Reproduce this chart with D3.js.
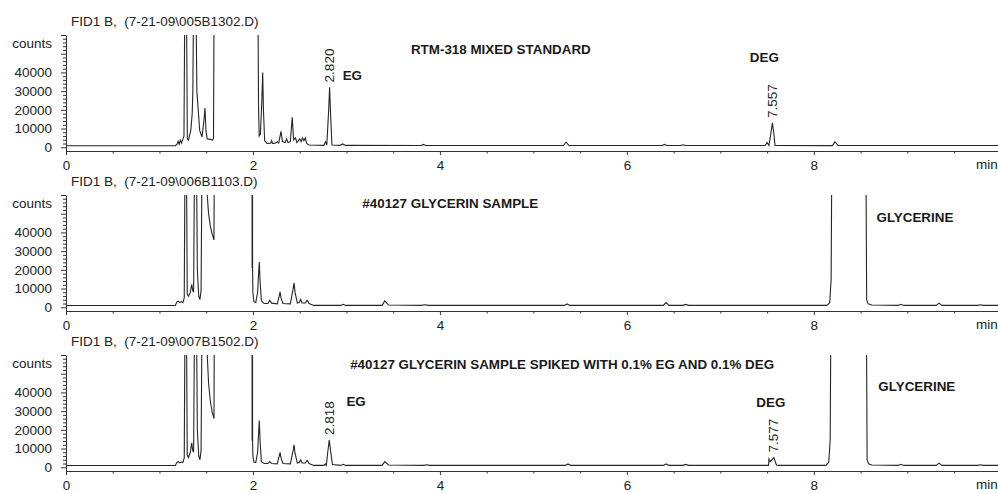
<!DOCTYPE html>
<html>
<head>
<meta charset="utf-8">
<script src="https://cdn.jsdelivr.net/npm/d3@7"></script>
<style>
  body { margin: 0; background: #fff; }
  svg { display: block; font-family: "Liberation Sans", Arial, sans-serif; }
  .axis text { font-size: 13.5px; fill: #222; }
  .axis path, .axis line { stroke: #333; }
  .trace { fill: none; stroke: #262626; stroke-width: 1.1; }
  .note { font-weight: bold; font-size: 13.4px; fill: #1a1a1a; }
  .label { font-size: 13.5px; fill: #222; white-space: pre; }
</style>
</head>
<body>
<div id="chart"></div>
<script>
// Chromatogram data: [minutes, counts]
// values above 60000 are off scale (clipped at the top of each panel)
const stdTrace = [
  [0, 800], [1.17, 800], [1.19, 1800], [1.2, 3200], [1.21, 1600], [1.225, 3800], [1.235, 2200], [1.25, 4200], [1.262, 6000],
  [1.28, 150000],
  [1.298, 4500], [1.31, 3800], [1.335, 9000], [1.35, 18000], [1.357, 30000],
  [1.375, 150000],
  [1.4, 30000], [1.43, 9000], [1.455, 5500], [1.475, 14000], [1.487, 21000], [1.497, 9000], [1.51, 4500], [1.54, 4200], [1.57, 3800], [1.578, 5000],
  [1.59, 150000], [2.045, 150000],
  [2.06, 20000], [2.067, 6000], [2.08, 7000], [2.095, 25000], [2.104, 40000], [2.112, 20000], [2.125, 3500], [2.15, 2000],
  [2.19, 2200], [2.2, 3500], [2.21, 2000], [2.24, 2200], [2.26, 3000], [2.275, 2200], [2.3, 8500], [2.315, 3000],
  [2.345, 2500], [2.36, 4500], [2.375, 2500], [2.4, 3000], [2.42, 16000], [2.435, 4000], [2.455, 5000], [2.47, 2500],
  [2.5, 4500], [2.515, 3000], [2.53, 5000], [2.545, 3500], [2.56, 5000], [2.575, 2000], [2.6, 1200],
  [2.76, 1000], [2.775, 3000], [2.79, 1200], [2.81, 20000], [2.82, 32000], [2.83, 18000], [2.845, 1200],
  [2.93, 1000], [2.96, 1800], [2.99, 1000], [3.8, 900], [3.82, 1500], [3.85, 900],
  [5.32, 900], [5.35, 2800], [5.38, 900], [6.38, 900], [6.4, 1500], [6.43, 900], [6.58, 900], [6.6, 1300], [6.63, 900],
  [7.48, 900], [7.5, 2500], [7.52, 900], [7.545, 9000], [7.557, 13000], [7.57, 8000], [7.585, 1000],
  [8.2, 900], [8.225, 3000], [8.26, 900], [9.97, 900]
];

const sampleTrace = [
  [0, 900], [1.17, 900], [1.185, 2800], [1.2, 3200], [1.215, 2600], [1.235, 3000], [1.25, 2500], [1.265, 5000],
  [1.28, 150000],
  [1.297, 7000], [1.31, 5900], [1.33, 8000], [1.345, 12300], [1.355, 9000], [1.365, 8000],
  [1.385, 150000],
  [1.405, 20000], [1.42, 6000], [1.433, 4100], [1.445, 9000],
  [1.465, 150000],
  [1.495, 90000], [1.511, 60000], [1.525, 50000], [1.545, 43000], [1.565, 39000], [1.583, 36000],
  [1.592, 150000], [1.99, 150000],
  [1.991, 21000], [1.992, 150000], [1.993, 22000], [1.994, 150000], [1.996, 20000], [1.999, 8000], [2.01, 3000],
  [2.03, 2500], [2.05, 8000], [2.06, 18000], [2.068, 24200], [2.076, 14000], [2.09, 3500], [2.12, 2000],
  [2.16, 2000], [2.18, 3700], [2.2, 2200], [2.26, 1800], [2.28, 6000], [2.29, 8200], [2.3, 5000], [2.32, 2000],
  [2.4, 1800], [2.43, 10000], [2.44, 13000], [2.45, 8000], [2.475, 2200], [2.495, 2500], [2.51, 4200], [2.525, 2300],
  [2.56, 2300], [2.58, 3700], [2.6, 2000], [2.65, 1000],
  [2.94, 1000], [2.966, 1600], [2.99, 1000], [3.38, 1000], [3.41, 3400], [3.45, 1200],
  [3.8, 1000], [3.84, 1300], [3.88, 1000], [5.33, 1000], [5.36, 1800], [5.39, 1000],
  [6.39, 1000], [6.42, 2500], [6.45, 1000], [6.6, 1000], [6.63, 1500], [6.66, 1000],
  [8.14, 1000], [8.17, 2500], [8.185, 15000], [8.2, 150000], [8.55, 150000],
  [8.565, 4000], [8.58, 1800], [8.62, 1200], [8.9, 1000], [8.93, 1600], [8.96, 1000],
  [9.31, 1000], [9.34, 2200], [9.37, 1000], [9.75, 1000], [9.78, 1300], [9.81, 1000], [9.97, 1000]
];

const spikedTrace = [
  [0, 900], [1.17, 900], [1.185, 2500], [1.2, 3000], [1.215, 2400], [1.235, 2800], [1.25, 2500], [1.265, 5000],
  [1.28, 150000],
  [1.297, 6500], [1.31, 5200], [1.33, 8000], [1.345, 13000], [1.355, 9000], [1.365, 8000],
  [1.385, 150000],
  [1.405, 20000], [1.42, 6000], [1.433, 4000], [1.445, 9000],
  [1.465, 150000],
  [1.495, 90000], [1.511, 60000], [1.525, 45000], [1.545, 35000], [1.565, 29000], [1.583, 26000],
  [1.592, 150000], [1.99, 150000],
  [1.991, 14000], [1.992, 150000], [1.993, 15000], [1.994, 150000], [1.996, 14000], [1.999, 6000], [2.01, 2800],
  [2.03, 2500], [2.05, 8000], [2.06, 18000], [2.068, 25000], [2.076, 14000], [2.09, 3000], [2.12, 2000],
  [2.16, 2000], [2.18, 3000], [2.2, 2000], [2.26, 1800], [2.28, 6000], [2.29, 8000], [2.3, 5000], [2.32, 2000],
  [2.4, 1800], [2.43, 9000], [2.44, 12000], [2.45, 7500], [2.475, 2200], [2.495, 2500], [2.51, 4000], [2.525, 2300],
  [2.56, 2300], [2.58, 3700], [2.6, 2000], [2.65, 1000],
  [2.76, 1000], [2.775, 1800], [2.785, 1000], [2.8, 8000], [2.816, 14600], [2.83, 9000], [2.85, 1500],
  [2.94, 1000], [2.966, 1600], [2.99, 1000], [3.38, 1000], [3.41, 3000], [3.45, 1200],
  [3.83, 1000], [3.86, 1300], [3.89, 1000], [5.34, 1000], [5.37, 1800], [5.4, 1000],
  [6.39, 1000], [6.42, 1800], [6.45, 1000], [6.6, 1000], [6.63, 1500], [6.66, 1000],
  [7.515, 1000], [7.52, 4500], [7.535, 3000], [7.572, 5200], [7.6, 1200], [7.62, 1000],
  [8.13, 1000], [8.16, 2800], [8.175, 15000], [8.19, 150000], [8.555, 150000],
  [8.57, 4000], [8.585, 1800], [8.62, 1200], [8.9, 1000], [8.93, 1600], [8.96, 1000],
  [9.31, 1000], [9.34, 2200], [9.37, 1000], [9.75, 1000], [9.78, 1300], [9.81, 1000], [9.97, 1000]
];

// retention time labels: [minutes, apex counts, text]
const stdPeakLabels = [[2.82, 32000, "2.820"], [7.557, 13000, "7.557"]];
const spikedPeakLabels = [[2.816, 14600, "2.818"], [7.572, 5200, "7.577"]];

const runFiles = [
  "FID1 B,  (7-21-09\\005B1302.D)",
  "FID1 B,  (7-21-09\\006B1103.D)",
  "FID1 B,  (7-21-09\\007B1502.D)"
];
const sampleNames = [
  "RTM-318 MIXED STANDARD",
  "#40127 GLYCERIN SAMPLE",
  "#40127 GLYCERIN SAMPLE SPIKED WITH 0.1% EG AND 0.1% DEG"
];
const xTicks = [0, 2, 4, 6, 8];
const yTicks = [0, 10000, 20000, 30000, 40000];

const width = 998, height = 494;
const panelTops = [35, 195, 355];
const panelH = 116;

const svg = d3.select("#chart").append("svg")
  .attr("width", width)
  .attr("height", height);

const x = d3.scaleLinear().domain([0, 9.97]).range([66, 998]);

// notes: [text, minutes, counts, anchor]
const panels = [
  {
    trace: stdTrace, peaks: stdPeakLabels,
    notes: [[sampleNames[0], 3.69, 52400, "start"], ["EG", 2.96, 38400, "start"], ["DEG", 7.47, 48000, "middle"]]
  },
  {
    trace: sampleTrace, peaks: [],
    notes: [[sampleNames[1], 3.17, 55500, "start"], ["GLYCERINE", 8.67, 48000, "start"]]
  },
  {
    trace: spikedTrace, peaks: spikedPeakLabels,
    notes: [[sampleNames[2], 3.04, 55100, "start"], ["EG", 3.0, 35000, "start"],
            ["DEG", 7.54, 34600, "middle"], ["GLYCERINE", 8.69, 43000, "start"]]
  }
];

panels.forEach((p, i) => {
  const top = panelTops[i];
  const y = d3.scaleLinear().domain([-2000, 60000]).range([top + panelH, top]);
  const g = svg.append("g");

  // clip so off-scale peaks stop at the top of the axis
  g.append("clipPath").attr("id", "clip" + i)
    .append("rect")
    .attr("x", x(0)).attr("y", top)
    .attr("width", width - x(0)).attr("height", panelH);

  // y axis, major + minor ticks
  g.append("g").attr("class", "axis")
    .attr("transform", `translate(${x(0)},0)`)
    .call(d3.axisLeft(y).tickValues(yTicks.concat([50000, 60000])).tickSize(5).tickSizeOuter(0).tickPadding(9)
      .tickFormat(d => yTicks.includes(d) ? d : ""));
  g.append("g").attr("class", "axis")
    .attr("transform", `translate(${x(0)},0)`)
    .call(d3.axisLeft(y).tickValues(y.ticks(31).filter(d => d > 0 && d % 10000 !== 0)).tickSize(3).tickFormat(""))
    .select(".domain").remove();

  // x axis
  const axisY = top + panelH;
  g.append("g").attr("class", "axis")
    .attr("transform", `translate(0,${axisY})`)
    .call(d3.axisBottom(x).tickValues(xTicks).tickSize(4).tickSizeOuter(0).tickPadding(5));
  g.append("g").attr("class", "axis")
    .attr("transform", `translate(0,${axisY})`)
    .call(d3.axisBottom(x).tickValues(x.ticks(20).filter(d => d % 2 !== 0)).tickSize(2.5).tickFormat(""))
    .select(".domain").remove();

  g.append("text").attr("class", "label")
    .attr("x", 976).attr("y", axisY + 13.5)
    .attr("dominant-baseline", "central")
    .text("min");

  g.append("text").attr("class", "label")
    .attr("x", x(0) - 14).attr("y", y(55700))
    .attr("text-anchor", "end")
    .attr("dominant-baseline", "central")
    .text("counts");

  g.append("text").attr("class", "label")
    .attr("x", 71).attr("y", top - 14)
    .attr("dominant-baseline", "central")
    .text(runFiles[i]);

  // the chromatogram
  const line = d3.line().x(d => x(d[0])).y(d => y(d[1]));
  g.append("path")
    .datum(p.trace)
    .attr("class", "trace")
    .attr("clip-path", `url(#clip${i})`)
    .attr("d", line);

  // retention times, rotated above the apex
  p.peaks.forEach(([t, v, txt]) => {
    g.append("text").attr("class", "label")
      .attr("transform", `translate(${x(t)},${y(v) - 5}) rotate(-90)`)
      .attr("dominant-baseline", "central")
      .text(txt);
  });

  p.notes.forEach(([txt, t, v, anchor]) => {
    g.append("text").attr("class", "note")
      .attr("x", x(t)).attr("y", y(v))
      .attr("text-anchor", anchor)
      .attr("dominant-baseline", "central")
      .text(txt);
  });
});
</script>
</body>
</html>
